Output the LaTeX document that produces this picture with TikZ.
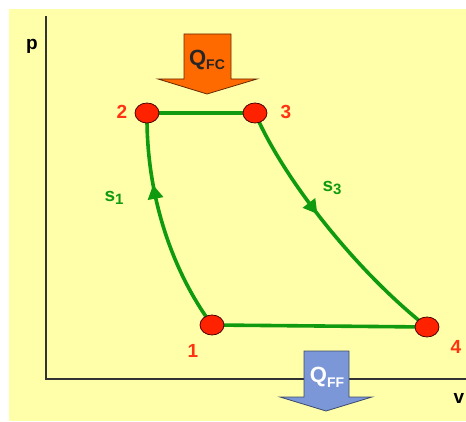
\documentclass[tikz,border=0pt]{standalone}
\usepackage{fontspec}
\setmainfont{Liberation Sans}
\usetikzlibrary{arrows.meta,decorations.markings,shapes.geometric}
\definecolor{bgyellow}{HTML}{FFFFAA}
\definecolor{cycgreen}{HTML}{109A10}
\definecolor{ptred}{HTML}{FF2200}
\definecolor{lblred}{HTML}{FF3311}
\definecolor{qorange}{HTML}{FF6A00}
\definecolor{qblue}{HTML}{7B97D8}
\definecolor{axisgray}{HTML}{333333}
\tikzset{
  statept/.style={ellipse, minimum width=24pt, minimum height=20pt, inner sep=0pt, fill=ptred, draw=black!70!red, line width=0.8pt},
  ptlabel/.style={text=lblred, font=\bfseries\fontsize{19}{19}\selectfont},
  axislabel/.style={text=black, font=\bfseries\fontsize{19}{19}\selectfont},
  pathlabel/.style={text=cycgreen, font=\bfseries\fontsize{19}{19}\selectfont},
  cycleline/.style={draw=cycgreen, line width=3.6pt},
  midarrow/.style={decoration={markings, mark=at position #1 with {\arrow{Triangle[length=14pt,width=15pt]}}}, postaction={decorate}},
  heatarrow/.style={line width=0.8pt, line join=miter},
  axisline/.style={draw=axisgray, line width=1.8pt}
}
\begin{document}
\begin{tikzpicture}[x=1pt,y=-1pt]
\useasboundingbox (0,0) rectangle (466,422);
\fill[white] (0,0) rectangle (466,422);
\fill[bgyellow] (9,9) rectangle (466,421);
% axes
\coordinate (ytop) at (46,16);
\coordinate (origin) at (46,379);
\coordinate (xend) at (466,379);
\draw[axisline] (ytop) -- (origin) -- (xend);
\node[axislabel] (plbl) at (32,46) {p};
\node[axislabel] (vlbl) at (459,398) {v};
% state coordinates
\coordinate (c1) at (212,325);
\coordinate (c2) at (147,113);
\coordinate (c3) at (255,113);
\coordinate (c4) at (427,327);
% cycle
\draw[cycleline, midarrow=0.68, cycgreen] (c1) .. controls (175,275) and (146,200) .. (c2);
\draw[cycleline] (c2) -- (c3);
\draw[cycleline, midarrow=0.43, cycgreen] (c3) .. controls (283,178) and (355,270) .. (c4);
\draw[cycleline] (c4) -- (c1);
% state points
\node[statept] (n1) at (c1) {};
\node[statept] (n2) at (c2) {};
\node[statept] (n3) at (c3) {};
\node[statept] (n4) at (c4) {};
\node[ptlabel] (l1) at (193,351) {1};
\node[ptlabel] (l2) at (122,112) {2};
\node[ptlabel] (l3) at (286,112) {3};
\node[ptlabel] (l4) at (456,347) {4};
\node[pathlabel] (s1) at (114,198) {s\raisebox{-0.35ex}{\fontsize{15}{15}\selectfont 1}};
\node[pathlabel] (s3) at (332,188) {s\raisebox{-0.35ex}{\fontsize{15}{15}\selectfont 3}};
% heat arrows
\filldraw[heatarrow, fill=qorange, draw=black!60!qorange] (184,34) -- (231,34) -- (231,79) -- (257,79) -- (207,94) -- (158,79) -- (184,79) -- cycle;
\node[text=black!85, font=\bfseries\fontsize{22}{22}\selectfont] (qfc) at (207,60) {Q\raisebox{-0.4ex}{\fontsize{14}{14}\selectfont FC}};
\filldraw[heatarrow, fill=qblue, draw=black!50!qblue] (304,351) -- (349,351) -- (349,397) -- (372,397) -- (326,411) -- (280,397) -- (304,397) -- cycle;
\node[text=white, font=\bfseries\fontsize{22}{22}\selectfont] (qff) at (327,377) {Q\raisebox{-0.4ex}{\fontsize{14}{14}\selectfont FF}};
\end{tikzpicture}
\end{document}
